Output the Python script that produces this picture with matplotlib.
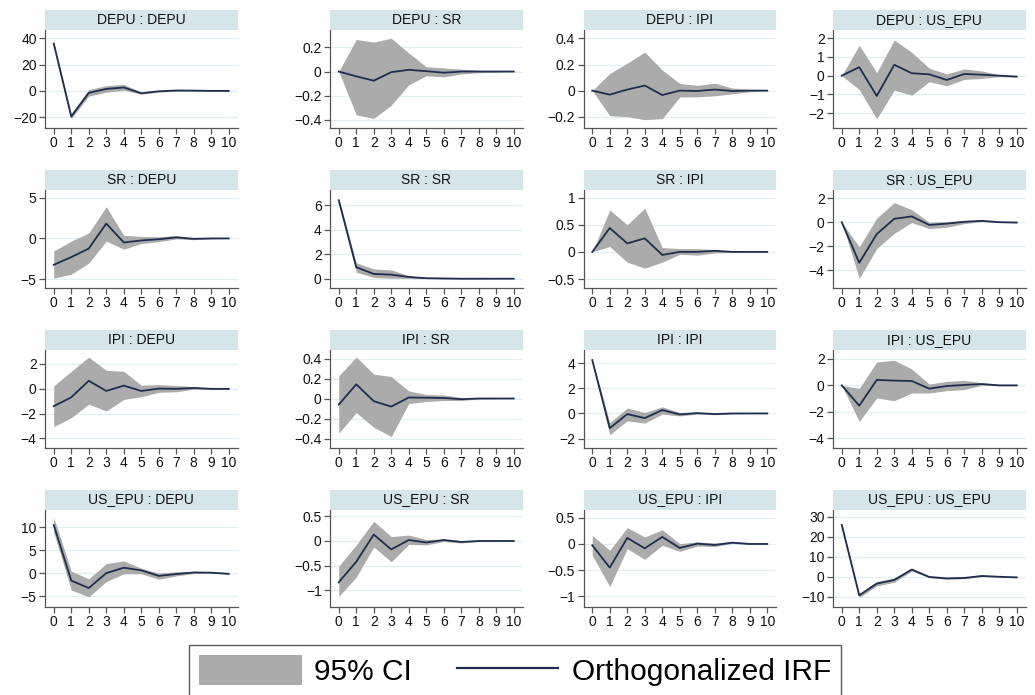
import matplotlib
matplotlib.use("Agg")
import matplotlib.pyplot as plt
from matplotlib.patches import Patch
from matplotlib.lines import Line2D
from matplotlib.ticker import FuncFormatter

plt.rcParams['font.family'] = ['Liberation Sans', 'DejaVu Sans']

steps = list(range(11))
titles = [
    "DEPU : DEPU", "DEPU : SR", "DEPU : IPI", "DEPU : US_EPU",
    "SR : DEPU", "SR : SR", "SR : IPI", "SR : US_EPU",
    "IPI : DEPU", "IPI : SR", "IPI : IPI", "IPI : US_EPU",
    "US_EPU : DEPU", "US_EPU : SR", "US_EPU : IPI", "US_EPU : US_EPU",
]

irf = [
    [36, -19.6, -1.5, 1.5, 2.6, -1.8, -0.3, 0.3, 0.2, 0, 0],
    [0, -0.04, -0.076, -0.005, 0.014, 0.003, -0.01, 0, 0, 0, 0],
    [0, -0.031, 0.008, 0.039, -0.034, 0, -0.003, 0.008, -0.003, 0, 0],
    [0, 0.45, -1.08, 0.58, 0.13, 0.07, -0.23, 0.09, 0.05, 0.0, -0.05],
    [-3.25, -2.3, -1.25, 1.83, -0.5, -0.25, -0.1, 0.13, -0.05, 0, 0],
    [6.42, 0.94, 0.39, 0.33, 0.14, 0.04, 0.02, 0, 0, 0, 0],
    [0, 0.44, 0.156, 0.25, -0.056, 0, 0, 0.02, 0, 0, 0],
    [0, -3.38, -0.99, 0.28, 0.48, -0.23, -0.12, 0.03, 0.11, 0.0, -0.03],
    [-1.41, -0.7, 0.63, -0.19, 0.24, -0.19, 0.0, -0.02, 0.05, -0.02, -0.02],
    [-0.061, 0.142, -0.027, -0.081, 0.01, 0.008, 0.005, -0.007, 0, 0, 0],
    [4.25, -1.17, -0.05, -0.37, 0.27, -0.08, 0.03, -0.05, 0, 0, 0],
    [0, -1.54, 0.41, 0.36, 0.33, -0.25, -0.05, 0.03, 0.1, 0, 0],
    [10.5, -1.63, -3.26, 0, 1.18, 0.6, -0.6, -0.2, 0.15, 0.1, -0.15],
    [-0.835, -0.42, 0.13, -0.17, 0.02, -0.03, 0.02, -0.02, 0, 0, 0],
    [-0.025, -0.45, 0.115, -0.083, 0.134, -0.076, 0.006, -0.02, 0.025, 0, 0],
    [26, -9.2, -3.3, -1.5, 3.7, 0, -0.7, -0.5, 0.5, 0.1, -0.2],
]

ci_upper = [
    [37.5, -17, 1, 4, 5, -1, 0.3, 0.8, 0.5, 0.2, 0.1],
    [0, 0.266, 0.244, 0.277, 0.154, 0.04, 0.03, 0.02, 0.01, 0.005, 0],
    [0, 0.132, 0.21, 0.296, 0.158, 0.055, 0.04, 0.057, 0.02, 0.01, 0],
    [0, 1.62, 0.16, 1.9, 1.24, 0.4, 0.09, 0.36, 0.25, 0.05, -0.02],
    [-1.54, -0.33, 0.67, 3.9, 0.38, 0.25, 0.2, 0.35, 0.05, 0.02, 0],
    [6.6, 1.3, 0.8, 0.72, 0.25, 0.08, 0.05, 0.02, 0.01, 0, 0],
    [0, 0.77, 0.5, 0.806, 0.08, 0.06, 0.06, 0.04, 0.01, 0, 0],
    [0, -2.06, 0.34, 1.63, 1.04, 0.0, 0.05, 0.15, 0.15, 0.03, 0],
    [0.22, 1.39, 2.53, 1.47, 1.39, 0.27, 0.32, 0.25, 0.15, 0.03, 0],
    [0.227, 0.414, 0.244, 0.22, 0.075, 0.04, 0.035, 0.01, 0.005, 0.002, 0],
    [4.35, -0.72, 0.43, 0.08, 0.53, 0.08, 0.1, 0.02, 0.03, 0.01, 0],
    [0, -0.23, 1.77, 1.9, 1.24, 0.1, 0.3, 0.38, 0.2, 0.02, 0.02],
    [12.2, 0.44, -1.26, 2.07, 2.67, 1.1, 0, 0.3, 0.35, 0.2, -0.05],
    [-0.51, -0.08, 0.4, 0.09, 0.12, 0.03, 0.04, 0.01, 0.01, 0, 0],
    [0.165, -0.12, 0.31, 0.134, 0.27, 0.006, 0.04, 0.02, 0.04, 0.01, 0],
    [27, -8.2, -2.2, -0.5, 4.4, 0.4, -0.3, -0.1, 0.8, 0.3, 0],
]

ci_lower = [
    [34.5, -21, -4, -1, 0.5, -2.5, -0.9, -0.2, -0.1, -0.2, -0.1],
    [0, -0.36, -0.39, -0.28, -0.11, -0.035, -0.045, -0.02, -0.01, -0.005, 0],
    [0, -0.192, -0.2, -0.223, -0.215, -0.049, -0.048, -0.04, -0.025, -0.008, 0],
    [0, -0.74, -2.3, -0.77, -1.04, -0.32, -0.54, -0.2, -0.15, -0.05, -0.08],
    [-4.9, -4.4, -3.04, -0.33, -1.33, -0.62, -0.4, -0.05, -0.15, -0.05, 0],
    [6.2, 0.53, 0.11, 0.03, 0.03, 0.01, -0.01, -0.01, -0.01, 0, 0],
    [0, 0.1, -0.19, -0.3, -0.19, -0.045, -0.06, -0.02, -0.01, 0, 0],
    [0, -4.68, -2.2, -0.93, -0.03, -0.54, -0.42, -0.12, 0.05, -0.03, -0.05],
    [-3.05, -2.34, -1.25, -1.8, -0.87, -0.65, -0.3, -0.25, -0.05, -0.06, -0.04],
    [-0.346, -0.142, -0.288, -0.38, -0.05, -0.03, -0.02, -0.02, -0.005, -0.002, 0],
    [4.15, -1.7, -0.58, -0.77, -0.05, -0.2, -0.05, -0.1, -0.03, -0.01, 0],
    [0, -2.73, -0.96, -1.16, -0.58, -0.58, -0.4, -0.32, 0.0, -0.03, -0.03],
    [8.9, -3.7, -5.2, -1.85, -0.15, -0.15, -1.33, -0.6, -0.1, 0, -0.25],
    [-1.12, -0.73, -0.12, -0.42, -0.07, -0.08, -0.01, -0.04, -0.01, 0, 0],
    [-0.217, -0.81, -0.09, -0.293, -0.025, -0.14, -0.04, -0.05, 0.01, -0.01, 0],
    [25, -10.2, -4.5, -2.6, 3, -0.4, -1.1, -0.9, 0.2, -0.1, -0.4],
]

y_ticks = [
    [-20, 0, 20, 40], [-0.4, -0.2, 0, 0.2], [-0.2, 0, 0.2, 0.4], [-2, -1, 0, 1, 2],
    [-5, 0, 5], [0, 2, 4, 6], [-0.5, 0, 0.5, 1], [-4, -2, 0, 2],
    [-4, -2, 0, 2], [-0.4, -0.2, 0, 0.2, 0.4], [-2, 0, 2, 4], [-4, -2, 0, 2],
    [-5, 0, 5, 10], [-1, -0.5, 0, 0.5], [-1, -0.5, 0, 0.5], [-10, 0, 10, 20, 30],
]

y_limits = [
    (-27.9, 46.4), (-0.465, 0.345), (-0.283, 0.465), (-2.76, 2.43),
    (-6.04, 5.96), (-0.72, 7.26), (-0.656, 1.14), (-5.44, 2.68),
    (-4.73, 3.1), (-0.49, 0.485), (-2.71, 5.05), (-4.71, 2.68),
    (-7.4, 13.9), (-1.335, 0.637), (-1.2, 0.656), (-15, 33.7),
]

ci_label = "95% CI"
irf_label = "Orthogonalized IRF"

W, H = 1035, 695
fig = plt.figure(figsize=(W / 100, H / 100), dpi=100)
fig.patch.set_facecolor("white")

col_left = [45, 330, 583.5, 833]
col_w = 192.5
row_top = [30, 190, 350, 509.5]
plot_h = 97.5
strip_h = 20

LINE = "#1f2d4e"
FILL = "#ababab"
STRIP = "#d5e6eb"
GRID = "#e4eef1"
AXC = "#555555"

fmt = FuncFormatter(lambda v, p: ("%g" % round(v, 6)).replace("-", "\u2212"))

for i in range(16):
    r, c = divmod(i, 4)
    x0 = col_left[c]
    y_top = row_top[r]
    ax = fig.add_axes([x0 / W, 1 - (y_top + plot_h) / H, col_w / W, plot_h / H])
    ax.fill_between(steps, ci_lower[i], ci_upper[i], color=FILL, lw=0, zorder=2)
    ax.plot(steps, irf[i], color=LINE, lw=1.3, zorder=3)
    ax.set_xlim(-0.5, 10.5)
    ax.set_ylim(*y_limits[i])
    ax.set_xticks(steps)
    ax.set_yticks(y_ticks[i])
    ax.yaxis.set_major_formatter(fmt)
    for yv in y_ticks[i]:
        ax.axhline(yv, color=GRID, lw=0.9, zorder=1)
    for s in ["top", "right"]:
        ax.spines[s].set_visible(False)
    for s in ["left", "bottom"]:
        ax.spines[s].set_color(AXC)
        ax.spines[s].set_linewidth(0.9)
    ax.tick_params(axis="both", direction="out", length=4, width=0.9,
                   color=AXC, labelsize=10, labelcolor="#111111", pad=2)
    ax.set_facecolor("white")

    sax = fig.add_axes([x0 / W, 1 - y_top / H, col_w / W, strip_h / H])
    sax.set_facecolor(STRIP)
    sax.set_xticks([])
    sax.set_yticks([])
    for s in sax.spines.values():
        s.set_visible(False)
    sax.text(0.5, 0.5, titles[i], ha="center", va="center", fontsize=10,
             color="#111111", transform=sax.transAxes)

handles = [Patch(facecolor=FILL, edgecolor="#999999", linewidth=0.5, label=ci_label),
           Line2D([0], [0], color=LINE, lw=1.6, label=irf_label)]
leg = fig.legend(handles=handles, loc="upper center", ncol=2,
                 bbox_to_anchor=(515 / W, 1 - 645 / H), fontsize=21.5,
                 frameon=True, fancybox=False, edgecolor="#333333",
                 handlelength=3.4, handleheight=1.1, handletextpad=0.45,
                 columnspacing=1.5, borderpad=0.35, borderaxespad=0)
leg.get_frame().set_linewidth(1.0)

fig.savefig("out.png", dpi=100, facecolor="white")
